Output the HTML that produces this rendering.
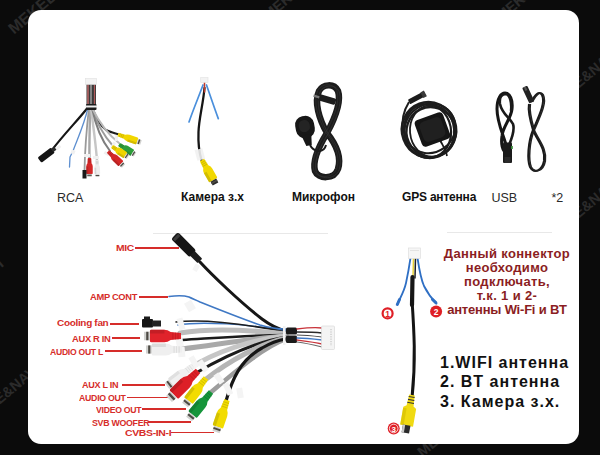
<!DOCTYPE html>
<html><head><meta charset="utf-8">
<style>
html,body{margin:0;padding:0;}
body{width:600px;height:455px;background:#0b0b0b;position:relative;overflow:hidden;font-family:"Liberation Sans",sans-serif;}
#card{position:absolute;left:28px;top:9.5px;width:551px;height:434.5px;background:#fff;border-radius:13px;}
.t{position:absolute;white-space:nowrap;line-height:1;}
.lab{font-size:12.5px;color:#2a2a2a;}
.bl{font-size:12px;font-weight:bold;color:#111;}
.red{position:absolute;white-space:nowrap;line-height:1;font-size:9.4px;font-weight:bold;color:#d62d2a;letter-spacing:-0.3px;}
.ln{position:absolute;height:1.7px;background:#d62d2a;}
.sep{position:absolute;height:1px;background:#e8e8e8;}
.wm{position:absolute;color:#2b2b2b;font-size:14.5px;font-weight:bold;transform:rotate(-40deg);transform-origin:0 100%;white-space:nowrap;line-height:1;}
svg{position:absolute;left:0;top:0;}
</style></head><body>
<div class="wm" style="left:15.5px;top:21px;font-size:16px;">MEKEDE</div>
<div class="wm" style="left:270px;top:8px;">MEKEDE</div>
<div class="wm" style="left:503px;top:9px;">MEKEDE</div>
<div class="wm" style="left:572px;top:83px;">DE&amp;NAVI</div>
<div class="wm" style="left:572px;top:213px;">DE&amp;NAVI</div>
<div class="wm" style="left:-43px;top:294px;">DE&amp;NAVI</div>
<div class="wm" style="left:-7px;top:399px;">DE&amp;NAVI</div>
<div class="wm" style="left:424px;top:445px;">MEKEDE</div>
<div id="card"></div>
<div class="sep" style="left:153px;top:233px;width:175px;"></div>
<div class="sep" style="left:447px;top:232px;width:105px;"></div>

<div class="t lab" style="left:57px;top:192px;">RCA</div>
<div class="t bl" style="left:181px;top:191px;">Камера з.х</div>
<div class="t bl" style="left:292px;top:191px;">Микрофон</div>
<div class="t bl" style="left:402px;top:191px;letter-spacing:-0.2px;">GPS антенна</div>
<div class="t lab" style="left:491.5px;top:192px;">USB</div>
<div class="t lab" style="left:551.5px;top:192px;">*2</div>


<div class="red" style="left:116px;top:243.0px;transform:scaleX(1.1);transform-origin:0 0;">MIC</div><div class="ln" style="left:134.7px;top:247.0px;width:44.0px;"></div>
<div class="red" style="left:90px;top:292.0px;transform:scaleX(0.993);transform-origin:0 0;">AMP CONT</div><div class="ln" style="left:138.7px;top:296.2px;width:29.3px;"></div>
<div class="red" style="left:57px;top:318.0px;transform:scaleX(1.065);transform-origin:0 0;">Cooling fan</div><div class="ln" style="left:110.0px;top:323.0px;width:28.7px;"></div>
<div class="red" style="left:72px;top:333.5px;transform:scaleX(0.995);transform-origin:0 0;">AUX R IN</div><div class="ln" style="left:111.5px;top:337.3px;width:28.5px;"></div>
<div class="red" style="left:49.5px;top:346.5px;transform:scaleX(0.919);transform-origin:0 0;">AUDIO OUT L</div><div class="ln" style="left:104.6px;top:350.0px;width:37.2px;"></div>
<div class="red" style="left:81.5px;top:379.5px;transform:scaleX(0.967);transform-origin:0 0;">AUX L IN</div><div class="ln" style="left:122.0px;top:384.0px;width:43.0px;"></div>
<div class="red" style="left:79px;top:393.0px;transform:scaleX(0.935);transform-origin:0 0;">AUDIO OUT</div><div class="ln" style="left:127.4px;top:396.5px;width:42.4px;"></div>
<div class="red" style="left:95.5px;top:404.5px;transform:scaleX(0.927);transform-origin:0 0;">VIDEO OUT</div><div class="ln" style="left:141.7px;top:408.3px;width:44.0px;"></div>
<div class="red" style="left:92px;top:418.0px;transform:scaleX(0.939);transform-origin:0 0;">SVB WOOFER</div><div class="ln" style="left:148.0px;top:421.3px;width:43.2px;"></div>
<div class="red" style="left:124.5px;top:428.0px;transform:scaleX(1.112);transform-origin:0 0;">CVBS-IN-I</div><div class="ln" style="left:170.6px;top:431.7px;width:43.4px;"></div>

<div class="t" style="left:436px;top:247px;width:142px;text-align:center;font-size:13px;font-weight:bold;color:#8b1d22;line-height:13.9px;letter-spacing:0.35px;white-space:normal;">Данный коннектор<br>необходимо<br>подключать,<br>т.к. 1 и 2-<br><span style="letter-spacing:-0.2px">антенны Wi-Fi и BT</span></div>
<div class="t" style="left:440px;top:353px;font-size:16px;font-weight:bold;color:#111;line-height:19.4px;letter-spacing:1.0px;">1.WIFI антенна<br>2. BT антенна<br>3. Камера з.х.</div>
<svg width="600" height="455" viewBox="0 0 600 455"><path d="M89,106 C80,118 64,134 52,150" fill="none" stroke="#161616" stroke-width="2.2" stroke-linecap="round" stroke-linejoin="round"/>
<path d="M88,108 C84,125 77,140 73,151 L70,157 L69.5,167" fill="none" stroke="#5d8fd0" stroke-width="1.3" stroke-linecap="round" stroke-linejoin="round"/>
<path d="M89,108 C87,125 85,145 84.5,171" fill="none" stroke="#9a9a9a" stroke-width="1.8" stroke-linecap="round" stroke-linejoin="round"/>
<path d="M90,108 C90,125 89,145 89.5,160" fill="none" stroke="#a8a8a8" stroke-width="2.4" stroke-linecap="round" stroke-linejoin="round"/>
<path d="M91,108 C93,125 96,145 97,161" fill="none" stroke="#c6c6c6" stroke-width="2.4" stroke-linecap="round" stroke-linejoin="round"/>
<path d="M92,107 C96,118 100,126 106,130 C110,132 114,133 120,135" fill="none" stroke="#1d1d1d" stroke-width="2.0" stroke-linecap="round" stroke-linejoin="round"/>
<path d="M92,108 C97,125 106,138 113,146" fill="none" stroke="#9c9c9c" stroke-width="2.0" stroke-linecap="round" stroke-linejoin="round"/>
<path d="M92,108 C96,128 103,142 110,151" fill="none" stroke="#7e7e7e" stroke-width="2.0" stroke-linecap="round" stroke-linejoin="round"/>
<path d="M92,108 C100,124 110,136 119,143" fill="none" stroke="#b8b8b8" stroke-width="2.0" stroke-linecap="round" stroke-linejoin="round"/>
<rect x="86.5" y="84" width="9.5" height="21" fill="#3a3a3a"/>
<path d="M88,85 L88,104" fill="none" stroke="#c46a6a" stroke-width="1.4" stroke-linecap="round" stroke-linejoin="round"/>
<path d="M91,85 L91,104" fill="none" stroke="#d0d0d0" stroke-width="1.0" stroke-linecap="round" stroke-linejoin="round"/>
<path d="M94.5,85 L94.5,104" fill="none" stroke="#b05858" stroke-width="1.2" stroke-linecap="round" stroke-linejoin="round"/>
<rect x="86" y="104" width="10.5" height="6" rx="1" fill="#1c1c1c"/><rect x="85.5" y="105.5" width="11.5" height="2" fill="#eeeeee"/>
<rect x="85.5" y="78.5" width="11" height="6" fill="#f3f3f3" stroke="#e0e0e0" stroke-width="0.6"/>
<g transform="translate(53,150) rotate(143)"><rect x="0" y="-3.2" width="17" height="6.4" rx="1.5" fill="#141414"/><rect x="-3" y="-1.8" width="4" height="3.6" fill="#2b2b2b"/></g>
<rect x="56" y="146" width="5" height="3" fill="#f0f0f0" transform="rotate(-40 58.5 147.5)"/>
<rect x="71" y="150" width="4" height="4" fill="#f0f0f0" transform="rotate(20 73.0 152.0)"/>
<rect x="84" y="154" width="6" height="3" fill="#f0f0f0" transform="rotate(0 87.0 155.5)"/>
<rect x="93" y="156" width="6" height="3" fill="#f0f0f0" transform="rotate(0 96.0 157.5)"/>
<rect x="104" y="152" width="5" height="3" fill="#f0f0f0" transform="rotate(30 106.5 153.5)"/>
<rect x="115" y="135" width="3" height="6" fill="#f0f0f0" transform="rotate(10 116.5 138.0)"/>
<rect x="112" y="142" width="3" height="5" fill="#f0f0f0" transform="rotate(30 113.5 144.5)"/>
<g transform="translate(118.0,134.5) rotate(19.2)"><path d="M0,-1.75 L6.82,-2.17 Q8.77,-3.50 10.96,-3.50 L19.48,-3.50 Q20.46,-3.50 20.46,-2.80 L20.46,2.80 Q20.46,3.50 19.48,3.50 L10.96,3.50 Q8.77,3.50 6.82,2.17 L0,1.75Z" fill="#f2d600"/><path d="M10.96,1.40 L20.46,1.40 L20.46,2.80 Q20.46,3.50 19.48,3.50 L10.96,3.50Z" fill="#b5a000" opacity="0.5"/><path d="M1.95,-1.93 L1.95,1.93" stroke="#b5a000" stroke-width="0.6" opacity="0.8"/><path d="M3.65,-1.93 L3.65,1.93" stroke="#b5a000" stroke-width="0.6" opacity="0.8"/><path d="M5.36,-1.93 L5.36,1.93" stroke="#b5a000" stroke-width="0.6" opacity="0.8"/><rect x="20.46" y="-2.38" width="3.90" height="4.76" fill="#d2d2d0"/><rect x="21.43" y="-2.38" width="1.46" height="4.76" fill="#4d4a44"/></g>
<g transform="translate(119.0,144.5) rotate(32.0)"><path d="M0,-1.75 L5.28,-2.17 Q6.79,-3.50 8.49,-3.50 L15.09,-3.50 Q15.85,-3.50 15.85,-2.80 L15.85,2.80 Q15.85,3.50 15.09,3.50 L8.49,3.50 Q6.79,3.50 5.28,2.17 L0,1.75Z" fill="#2e9e3a"/><path d="M8.49,1.40 L15.85,1.40 L15.85,2.80 Q15.85,3.50 15.09,3.50 L8.49,3.50Z" fill="#22762b" opacity="0.5"/><path d="M1.51,-1.93 L1.51,1.93" stroke="#22762b" stroke-width="0.6" opacity="0.8"/><path d="M2.83,-1.93 L2.83,1.93" stroke="#22762b" stroke-width="0.6" opacity="0.8"/><path d="M4.15,-1.93 L4.15,1.93" stroke="#22762b" stroke-width="0.6" opacity="0.8"/><rect x="15.85" y="-2.38" width="3.02" height="4.76" fill="#d2d2d0"/><rect x="16.60" y="-2.38" width="1.13" height="4.76" fill="#4d4a44"/></g>
<g transform="translate(112.0,146.5) rotate(33.3)"><path d="M0,-1.75 L5.36,-2.17 Q6.89,-3.50 8.61,-3.50 L15.31,-3.50 Q16.08,-3.50 16.08,-2.80 L16.08,2.80 Q16.08,3.50 15.31,3.50 L8.61,3.50 Q6.89,3.50 5.36,2.17 L0,1.75Z" fill="#efd400"/><path d="M8.61,1.40 L16.08,1.40 L16.08,2.80 Q16.08,3.50 15.31,3.50 L8.61,3.50Z" fill="#b39f00" opacity="0.5"/><path d="M1.53,-1.93 L1.53,1.93" stroke="#b39f00" stroke-width="0.6" opacity="0.8"/><path d="M2.87,-1.93 L2.87,1.93" stroke="#b39f00" stroke-width="0.6" opacity="0.8"/><path d="M4.21,-1.93 L4.21,1.93" stroke="#b39f00" stroke-width="0.6" opacity="0.8"/><rect x="16.08" y="-2.38" width="3.06" height="4.76" fill="#d2d2d0"/><rect x="16.84" y="-2.38" width="1.15" height="4.76" fill="#4d4a44"/></g>
<g transform="translate(108.0,151.5) rotate(43.1)"><path d="M0,-1.75 L5.94,-2.17 Q7.64,-3.50 9.55,-3.50 L16.98,-3.50 Q17.83,-3.50 17.83,-2.80 L17.83,2.80 Q17.83,3.50 16.98,3.50 L9.55,3.50 Q7.64,3.50 5.94,2.17 L0,1.75Z" fill="#d42828"/><path d="M9.55,1.40 L17.83,1.40 L17.83,2.80 Q17.83,3.50 16.98,3.50 L9.55,3.50Z" fill="#9f1e1e" opacity="0.5"/><path d="M1.70,-1.93 L1.70,1.93" stroke="#9f1e1e" stroke-width="0.6" opacity="0.8"/><path d="M3.18,-1.93 L3.18,1.93" stroke="#9f1e1e" stroke-width="0.6" opacity="0.8"/><path d="M4.67,-1.93 L4.67,1.93" stroke="#9f1e1e" stroke-width="0.6" opacity="0.8"/><rect x="17.83" y="-2.38" width="3.40" height="4.76" fill="#d2d2d0"/><rect x="18.68" y="-2.38" width="1.27" height="4.76" fill="#4d4a44"/></g>
<g transform="translate(89.5,158.0) rotate(90.0)"><path d="M0,-1.62 L5.32,-2.02 Q6.84,-3.25 8.55,-3.25 L15.20,-3.25 Q15.96,-3.25 15.96,-2.60 L15.96,2.60 Q15.96,3.25 15.20,3.25 L8.55,3.25 Q6.84,3.25 5.32,2.02 L0,1.62Z" fill="#d42828"/><path d="M8.55,1.30 L15.96,1.30 L15.96,2.60 Q15.96,3.25 15.20,3.25 L8.55,3.25Z" fill="#9f1e1e" opacity="0.5"/><path d="M1.52,-1.79 L1.52,1.79" stroke="#9f1e1e" stroke-width="0.6" opacity="0.8"/><path d="M2.85,-1.79 L2.85,1.79" stroke="#9f1e1e" stroke-width="0.6" opacity="0.8"/><path d="M4.18,-1.79 L4.18,1.79" stroke="#9f1e1e" stroke-width="0.6" opacity="0.8"/><rect x="15.96" y="-2.21" width="3.04" height="4.42" fill="#d2d2d0"/><rect x="16.72" y="-2.21" width="1.14" height="4.42" fill="#4d4a44"/></g>
<g transform="translate(97.0,160.0) rotate(88.3)"><path d="M0,-1.38 L4.76,-1.71 Q6.12,-2.75 7.65,-2.75 L13.61,-2.75 Q14.29,-2.75 14.29,-2.20 L14.29,2.20 Q14.29,2.75 13.61,2.75 L7.65,2.75 Q6.12,2.75 4.76,1.71 L0,1.38Z" fill="#eeeeee"/><path d="M7.65,1.10 L14.29,1.10 L14.29,2.20 Q14.29,2.75 13.61,2.75 L7.65,2.75Z" fill="#bbbbbb" opacity="0.5"/><path d="M1.36,-1.51 L1.36,1.51" stroke="#bbbbbb" stroke-width="0.6" opacity="0.8"/><path d="M2.55,-1.51 L2.55,1.51" stroke="#bbbbbb" stroke-width="0.6" opacity="0.8"/><path d="M3.74,-1.51 L3.74,1.51" stroke="#bbbbbb" stroke-width="0.6" opacity="0.8"/><rect x="14.29" y="-1.87" width="2.72" height="3.74" fill="#d2d2d0"/><rect x="14.97" y="-1.87" width="1.02" height="3.74" fill="#4d4a44"/></g>
<rect x="82.5" y="170" width="4" height="8.5" fill="#1a1a1a"/>
<path d="M203,85 C199,96 193,110 189,122" fill="none" stroke="#4a8fdc" stroke-width="1.7" stroke-linecap="round" stroke-linejoin="round"/>
<path d="M206.5,85 C210,95 214,107 218.3,118.6" fill="none" stroke="#4a8fdc" stroke-width="1.7" stroke-linecap="round" stroke-linejoin="round"/>
<path d="M204.5,88 C203,105 199,118 198.5,132 C198,145 199,152 201.5,160" fill="none" stroke="#151515" stroke-width="2.3" stroke-linecap="round" stroke-linejoin="round"/>
<path d="M204.5,82 L204.5,92" fill="none" stroke="#c0392b" stroke-width="1.5" stroke-linecap="round" stroke-linejoin="round"/>
<rect x="200.7" y="77.5" width="7.3" height="5" fill="#f3f3f3" stroke="#e2e2e2" stroke-width="0.6"/>
<rect x="196" y="149" width="8" height="11" fill="#f1f1f1" opacity="0.9" transform="rotate(-15 200 155)"/>
<g transform="translate(202.0,160.0) rotate(60.6)"><path d="M0,-2.38 L7.71,-2.94 Q9.91,-4.75 12.39,-4.75 L22.03,-4.75 Q23.13,-4.75 23.13,-3.80 L23.13,3.80 Q23.13,4.75 22.03,4.75 L12.39,4.75 Q9.91,4.75 7.71,2.94 L0,2.38Z" fill="#f1d800"/><path d="M12.39,1.90 L23.13,1.90 L23.13,3.80 Q23.13,4.75 22.03,4.75 L12.39,4.75Z" fill="#b4a200" opacity="0.5"/><path d="M2.20,-2.61 L2.20,2.61" stroke="#b4a200" stroke-width="0.6" opacity="0.8"/><path d="M4.13,-2.61 L4.13,2.61" stroke="#b4a200" stroke-width="0.6" opacity="0.8"/><path d="M6.06,-2.61 L6.06,2.61" stroke="#b4a200" stroke-width="0.6" opacity="0.8"/><rect x="23.13" y="-3.23" width="4.41" height="6.46" fill="#2a2a2a"/><rect x="24.23" y="-3.23" width="1.65" height="6.46" fill="#4d4a44"/></g>
<path d="M327,133 C319,119 314,102 319,91 C323,84 334,83 338,91 C342,103 334,120 327,133 C319,146 312,160 315,171 C318,179 334,180 338,169 C342,156 335,143 327,133" fill="none" stroke="#1c1c1c" stroke-width="6.5" stroke-linecap="round"/>
<path d="M327,133 C319,119 314,102 319,91 C323,84 334,83 338,91 C342,103 334,120 327,133 C319,146 312,160 315,171 C318,179 334,180 338,169 C342,156 335,143 327,133" transform="translate(1.2,0.6)" fill="none" stroke="#3a3a3a" stroke-width="0.6"/>
<path d="M327,133 C319,119 314,102 319,91 C323,84 334,83 338,91 C342,103 334,120 327,133 C319,146 312,160 315,171 C318,179 334,180 338,169 C342,156 335,143 327,133" transform="translate(-1.2,-0.6)" fill="none" stroke="#353535" stroke-width="0.6"/>
<path d="M310,145 C312,149 315,151 319,151 C323,151 325,149 326,145" fill="none" stroke="#1b1b1b" stroke-width="2"/>
<g transform="translate(305,127) rotate(-10)"><rect x="-9.5" y="-11" width="19" height="22" rx="8.5" fill="#171717"/><path d="M-5,8 L5,8 L3.5,19 L-2,19Z" fill="#171717"/><rect x="-6" y="-7" width="11" height="12" rx="5" fill="#242424"/></g>
<g transform="translate(327,99.5) rotate(16)"><rect x="-9" y="-3.2" width="18" height="6.4" rx="1.5" fill="#1d1d1d"/><rect x="-14" y="-1.2" width="6" height="2.4" fill="#7a7a7a"/></g>
<g fill="none" stroke="#1c1c1c">
<ellipse cx="429" cy="130" rx="27" ry="28" transform="rotate(-20 429 130)" stroke-width="2.6"/>
<ellipse cx="431" cy="132" rx="24.5" ry="25" transform="rotate(-25 431 132)" stroke-width="2.4"/>
<ellipse cx="427.5" cy="131" rx="23.5" ry="27" transform="rotate(-10 427.5 131)" stroke-width="2.2"/>
<ellipse cx="430" cy="128.5" rx="26" ry="24" transform="rotate(-35 430 128.5)" stroke-width="2.0"/>
<ellipse cx="432" cy="131" rx="22" ry="26" transform="rotate(-5 432 131)" stroke-width="1.8"/>
<path d="M409,102 C404,110 401,120 403,132" stroke-width="2"/>
<path d="M440,140 C443,146 446,150 447,156" stroke-width="1.8"/>
</g>
<g transform="translate(432.5,129.5) rotate(-20)"><rect x="-15" y="-14" width="30" height="28" rx="4" fill="#151515"/><rect x="-11.5" y="-10.5" width="23" height="21" rx="5" fill="#202020"/></g>
<g transform="translate(417,97.8) rotate(-28)"><rect x="-9" y="-2.6" width="18" height="5.2" rx="1" fill="#1c1c1c"/><rect x="5.5" y="-3.2" width="4" height="6.4" fill="#3a3a3a"/></g>
<path d="M506,145 C504,136 497,123 497,109 C497,98 501,93 505,93 C510,93 513,100 512,109 C511,119 503,126 502,136 C501,143 502,148 504,151" fill="none" stroke="#151515" stroke-width="3.0"/>
<path d="M509,145 C512,138 515,130 513,124 C510,118 502,114 500,104 C499,97 502,94 506,94 C510,95 512,103 511,111" fill="none" stroke="#1a1a1a" stroke-width="2.6"/>
<rect x="503" y="142.5" width="9" height="20.5" rx="1" fill="#1a1a1a"/><rect x="504.5" y="157" width="6" height="6" fill="#2a2a2a"/>
<rect x="511" y="146" width="1.8" height="3" fill="#3a8a3a"/>
<path d="M531,102 C535,95 539,90 542,95 C546,103 538,118 533,130 C528,142 527,160 530,167 C534,174 542,171 544,161 C546,149 537,140 533,130 C530,120 528,110 529,104" transform="translate(0,0)" fill="none" stroke="#1a1a1a" stroke-width="2.1"/>
<path d="M531,102 C535,95 539,90 542,95 C546,103 538,118 533,130 C528,142 527,160 530,167 C534,174 542,171 544,161 C546,149 537,140 533,130 C530,120 528,110 529,104" transform="translate(1.4,0)" fill="none" stroke="#222" stroke-width="1.5"/>
<g transform="translate(528.5,95) rotate(65)"><rect x="-9" y="-2.8" width="17" height="5.6" rx="1" fill="#222"/><rect x="-9" y="-1" width="4" height="2" fill="#555"/></g>
<path d="M200,262 C212,275 240,302 262,319 C270,325 278,329 286,331" fill="none" stroke="#161616" stroke-width="3.0" stroke-linecap="round" stroke-linejoin="round"/>
<path d="M169,296.5 C176,295.5 183,295 189,297 C193,299 196,300 200,302 C215,308 240,318 260,325 C270,328 278,329 286,329" fill="none" stroke="#3f78c4" stroke-width="1.6" stroke-linecap="round" stroke-linejoin="round"/>
<path d="M178,325 C200,321 250,324 286,331" fill="none" stroke="#3f78c4" stroke-width="1.5" stroke-linecap="round" stroke-linejoin="round"/>
<path d="M176,322 C210,318 255,326 286,332" fill="none" stroke="#1d1d1d" stroke-width="1.6" stroke-linecap="round" stroke-linejoin="round"/>
<path d="M180,333 C210,328 250,330 286,334" fill="none" stroke="#bdbdbd" stroke-width="5" stroke-linecap="round" stroke-linejoin="round"/>
<path d="M182,340 C215,338 250,335 286,335" fill="none" stroke="#1b1b1b" stroke-width="2.6" stroke-linecap="round" stroke-linejoin="round"/>
<path d="M182,349 C215,345 255,338 286,336" fill="none" stroke="#a9a9a9" stroke-width="5" stroke-linecap="round" stroke-linejoin="round"/>
<path d="M190,368 C215,352 250,340 286,336" fill="none" stroke="#c6c6c6" stroke-width="5" stroke-linecap="round" stroke-linejoin="round"/>
<path d="M196,373 C225,356 255,342 286,337" fill="none" stroke="#1b1b1b" stroke-width="3" stroke-linecap="round" stroke-linejoin="round"/>
<path d="M205,380 C230,360 260,344 286,338" fill="none" stroke="#b5b5b5" stroke-width="5" stroke-linecap="round" stroke-linejoin="round"/>
<path d="M210,393 C235,372 262,348 286,339" fill="none" stroke="#9d9d9d" stroke-width="4.5" stroke-linecap="round" stroke-linejoin="round"/>
<path d="M226,401 C232,380 240,360 262,348 C272,342 280,340 286,339" fill="none" stroke="#161616" stroke-width="3.2" stroke-linecap="round" stroke-linejoin="round"/>
<rect x="286" y="327.5" width="11" height="7" rx="1.5" fill="#1a1a1a"/><rect x="286" y="335.5" width="11" height="7.5" rx="1.5" fill="#1a1a1a"/>
<path d="M297,329 C305,328 314,327 322,328" fill="none" stroke="#c8333a" stroke-width="1.3" stroke-linecap="round" stroke-linejoin="round"/>
<path d="M297,332 C305,332 314,332 322,333" fill="none" stroke="#2a2a2a" stroke-width="1.3" stroke-linecap="round" stroke-linejoin="round"/>
<path d="M297,335 C305,335 314,336 322,337" fill="none" stroke="#4a4a4a" stroke-width="1.2" stroke-linecap="round" stroke-linejoin="round"/>
<path d="M297,338 C305,338 314,339 322,340" fill="none" stroke="#3f78c4" stroke-width="1.3" stroke-linecap="round" stroke-linejoin="round"/>
<path d="M297,340 C305,341 314,342 322,344" fill="none" stroke="#c8333a" stroke-width="1.3" stroke-linecap="round" stroke-linejoin="round"/>
<path d="M297,342 C305,343 314,345 322,347" fill="none" stroke="#6a6a6a" stroke-width="1.2" stroke-linecap="round" stroke-linejoin="round"/>
<rect x="321.5" y="326" width="13" height="23.5" rx="1" fill="#f4f4f4" stroke="#dadada" stroke-width="0.7"/>
<path d="M331,329 L331,346" stroke="#b0b0b0" stroke-width="0.8" stroke-dasharray="1.2,1.2"/>
<rect x="283" y="326" width="2.5" height="19" fill="#f2f2f2"/>
<g transform="translate(174.5,235.5) rotate(45)"><rect x="0" y="-4.8" width="26" height="9.6" rx="2.5" fill="#151515"/><rect x="25" y="-3.2" width="11" height="6.4" rx="1" fill="#1e1e1e"/><rect x="1.5" y="-3.8" width="3" height="7.6" fill="#3a3a3a"/></g>
<rect x="194" y="264" width="5" height="7" fill="#f5f5f5" transform="rotate(30 196 267)"/>
<rect x="142" y="319" width="11" height="8.5" rx="1" fill="#151515"/><rect x="152" y="320.5" width="9" height="6" fill="#222"/><rect x="144" y="316.5" width="6" height="3" fill="#1b1b1b"/>
<rect x="186" y="301" width="8" height="10" fill="#f4f4f4" transform="rotate(-30 190.0 306.0)"/>
<rect x="178" y="318" width="6" height="12" fill="#f4f4f4" transform="rotate(-15 181.0 324.0)"/>
<rect x="176" y="336" width="7" height="11" fill="#f4f4f4" transform="rotate(-10 179.5 341.5)"/>
<rect x="178" y="347" width="7" height="10" fill="#f4f4f4" transform="rotate(-5 181.5 352.0)"/>
<rect x="191" y="356" width="6" height="12" fill="#f4f4f4" transform="rotate(-30 194.0 362.0)"/>
<rect x="200" y="360" width="6" height="12" fill="#f4f4f4" transform="rotate(-35 203.0 366.0)"/>
<rect x="216" y="373" width="6" height="11" fill="#f4f4f4" transform="rotate(-35 219.0 378.5)"/>
<rect x="225" y="383" width="6" height="12" fill="#f4f4f4" transform="rotate(-25 228.0 389.0)"/>
<rect x="237" y="388" width="6" height="10" fill="#f4f4f4" transform="rotate(-10 240.0 393.0)"/>
<g transform="translate(181.0,336.0) rotate(180.0)"><path d="M0,-3.12 L10.36,-3.88 Q13.32,-6.25 16.65,-6.25 L29.60,-6.25 Q31.08,-6.25 31.08,-5.00 L31.08,5.00 Q31.08,6.25 29.60,6.25 L16.65,6.25 Q13.32,6.25 10.36,3.88 L0,3.12Z" fill="#e0232b"/><path d="M16.65,2.50 L31.08,2.50 L31.08,5.00 Q31.08,6.25 29.60,6.25 L16.65,6.25Z" fill="#a81a20" opacity="0.5"/><path d="M2.96,-3.44 L2.96,3.44" stroke="#a81a20" stroke-width="0.6" opacity="0.8"/><path d="M5.55,-3.44 L5.55,3.44" stroke="#a81a20" stroke-width="0.6" opacity="0.8"/><path d="M8.14,-3.44 L8.14,3.44" stroke="#a81a20" stroke-width="0.6" opacity="0.8"/><rect x="31.08" y="-4.25" width="5.92" height="8.50" fill="#d2d2d0"/><rect x="32.56" y="-4.25" width="2.22" height="8.50" fill="#4d4a44"/></g>
<g transform="translate(182.0,349.5) rotate(180.0)"><path d="M0,-3.00 L10.08,-3.72 Q12.96,-6.00 16.20,-6.00 L28.80,-6.00 Q30.24,-6.00 30.24,-4.80 L30.24,4.80 Q30.24,6.00 28.80,6.00 L16.20,6.00 Q12.96,6.00 10.08,3.72 L0,3.00Z" fill="#efefef"/><path d="M16.20,2.40 L30.24,2.40 L30.24,4.80 Q30.24,6.00 28.80,6.00 L16.20,6.00Z" fill="#c8c8c8" opacity="0.5"/><path d="M2.88,-3.30 L2.88,3.30" stroke="#c8c8c8" stroke-width="0.6" opacity="0.8"/><path d="M5.40,-3.30 L5.40,3.30" stroke="#c8c8c8" stroke-width="0.6" opacity="0.8"/><path d="M7.92,-3.30 L7.92,3.30" stroke="#c8c8c8" stroke-width="0.6" opacity="0.8"/><rect x="30.24" y="-4.08" width="5.76" height="8.16" fill="#d2d2d0"/><rect x="31.68" y="-4.08" width="2.16" height="8.16" fill="#4d4a44"/></g>
<g transform="translate(193.0,366.0) rotate(142.4)"><path d="M0,-2.75 L9.18,-3.41 Q11.81,-5.50 14.76,-5.50 L26.24,-5.50 Q27.55,-5.50 27.55,-4.40 L27.55,4.40 Q27.55,5.50 26.24,5.50 L14.76,5.50 Q11.81,5.50 9.18,3.41 L0,2.75Z" fill="#f0f0f0"/><path d="M14.76,2.20 L27.55,2.20 L27.55,4.40 Q27.55,5.50 26.24,5.50 L14.76,5.50Z" fill="#cfcfcf" opacity="0.5"/><path d="M2.62,-3.03 L2.62,3.03" stroke="#cfcfcf" stroke-width="0.6" opacity="0.8"/><path d="M4.92,-3.03 L4.92,3.03" stroke="#cfcfcf" stroke-width="0.6" opacity="0.8"/><path d="M7.22,-3.03 L7.22,3.03" stroke="#cfcfcf" stroke-width="0.6" opacity="0.8"/><rect x="27.55" y="-3.74" width="5.25" height="7.48" fill="#d2d2d0"/><rect x="28.87" y="-3.74" width="1.97" height="7.48" fill="#4d4a44"/></g>
<g transform="translate(198.0,371.0) rotate(136.0)"><path d="M0,-3.12 L11.29,-3.88 Q14.51,-6.25 18.14,-6.25 L32.25,-6.25 Q33.86,-6.25 33.86,-5.00 L33.86,5.00 Q33.86,6.25 32.25,6.25 L18.14,6.25 Q14.51,6.25 11.29,3.88 L0,3.12Z" fill="#dd1f27"/><path d="M18.14,2.50 L33.86,2.50 L33.86,5.00 Q33.86,6.25 32.25,6.25 L18.14,6.25Z" fill="#a5171d" opacity="0.5"/><path d="M3.22,-3.44 L3.22,3.44" stroke="#a5171d" stroke-width="0.6" opacity="0.8"/><path d="M6.05,-3.44 L6.05,3.44" stroke="#a5171d" stroke-width="0.6" opacity="0.8"/><path d="M8.87,-3.44 L8.87,3.44" stroke="#a5171d" stroke-width="0.6" opacity="0.8"/><rect x="33.86" y="-4.25" width="6.45" height="8.50" fill="#d2d2d0"/><rect x="35.47" y="-4.25" width="2.42" height="8.50" fill="#4d4a44"/></g>
<g transform="translate(206.0,378.0) rotate(127.9)"><path d="M0,-2.75 L9.58,-3.41 Q12.31,-5.50 15.39,-5.50 L27.36,-5.50 Q28.73,-5.50 28.73,-4.40 L28.73,4.40 Q28.73,5.50 27.36,5.50 L15.39,5.50 Q12.31,5.50 9.58,3.41 L0,2.75Z" fill="#f2dc00"/><path d="M15.39,2.20 L28.73,2.20 L28.73,4.40 Q28.73,5.50 27.36,5.50 L15.39,5.50Z" fill="#b5a500" opacity="0.5"/><path d="M2.74,-3.03 L2.74,3.03" stroke="#b5a500" stroke-width="0.6" opacity="0.8"/><path d="M5.13,-3.03 L5.13,3.03" stroke="#b5a500" stroke-width="0.6" opacity="0.8"/><path d="M7.53,-3.03 L7.53,3.03" stroke="#b5a500" stroke-width="0.6" opacity="0.8"/><rect x="28.73" y="-3.74" width="5.47" height="7.48" fill="#d2d2d0"/><rect x="30.10" y="-3.74" width="2.05" height="7.48" fill="#4d4a44"/></g>
<g transform="translate(211.0,392.0) rotate(129.2)"><path d="M0,-2.75 L9.75,-3.41 Q12.54,-5.50 15.67,-5.50 L27.86,-5.50 Q29.26,-5.50 29.26,-4.40 L29.26,4.40 Q29.26,5.50 27.86,5.50 L15.67,5.50 Q12.54,5.50 9.75,3.41 L0,2.75Z" fill="#16953b"/><path d="M15.67,2.20 L29.26,2.20 L29.26,4.40 Q29.26,5.50 27.86,5.50 L15.67,5.50Z" fill="#106f2c" opacity="0.5"/><path d="M2.79,-3.03 L2.79,3.03" stroke="#106f2c" stroke-width="0.6" opacity="0.8"/><path d="M5.22,-3.03 L5.22,3.03" stroke="#106f2c" stroke-width="0.6" opacity="0.8"/><path d="M7.66,-3.03 L7.66,3.03" stroke="#106f2c" stroke-width="0.6" opacity="0.8"/><rect x="29.26" y="-3.74" width="5.57" height="7.48" fill="#d2d2d0"/><rect x="30.65" y="-3.74" width="2.09" height="7.48" fill="#4d4a44"/></g>
<g transform="translate(227.0,400.0) rotate(109.0)"><path d="M0,-2.75 L9.47,-3.41 Q12.18,-5.50 15.23,-5.50 L27.07,-5.50 Q28.42,-5.50 28.42,-4.40 L28.42,4.40 Q28.42,5.50 27.07,5.50 L15.23,5.50 Q12.18,5.50 9.47,3.41 L0,2.75Z" fill="#f2dc00"/><path d="M15.23,2.20 L28.42,2.20 L28.42,4.40 Q28.42,5.50 27.07,5.50 L15.23,5.50Z" fill="#b5a500" opacity="0.5"/><path d="M2.71,-3.03 L2.71,3.03" stroke="#b5a500" stroke-width="0.6" opacity="0.8"/><path d="M5.08,-3.03 L5.08,3.03" stroke="#b5a500" stroke-width="0.6" opacity="0.8"/><path d="M7.44,-3.03 L7.44,3.03" stroke="#b5a500" stroke-width="0.6" opacity="0.8"/><rect x="28.42" y="-3.74" width="5.41" height="7.48" fill="#d2d2d0"/><rect x="29.78" y="-3.74" width="2.03" height="7.48" fill="#4d4a44"/></g>
<path d="M410.5,258 C409,268 407.5,276 406,283 C404,292 400,298 397.5,304" fill="none" stroke="#2f6fc4" stroke-width="1.8" stroke-linecap="round" stroke-linejoin="round"/>
<path d="M417.5,258 C419,268 420.5,278 424,286 C428,294 433,300 436.5,303.5" fill="none" stroke="#2f6fc4" stroke-width="1.8" stroke-linecap="round" stroke-linejoin="round"/>
<path d="M399.5,299.5 L397.3,304.5" stroke="#2f6fc4" stroke-width="3" stroke-linecap="round"/>
<path d="M432.5,299.5 L435.8,302.7" stroke="#2f6fc4" stroke-width="3" stroke-linecap="round"/>
<path d="M413.5,258 L413,278" fill="none" stroke="#e8d23a" stroke-width="1.5" stroke-linecap="round" stroke-linejoin="round"/>
<path d="M415.5,258 L415,278" fill="none" stroke="#222" stroke-width="1.5" stroke-linecap="round" stroke-linejoin="round"/>
<path d="M412.5,277 L412,305" fill="none" stroke="#161616" stroke-width="4.2" stroke-linecap="round" stroke-linejoin="round"/>
<path d="M412,300 C414,330 416,360 412,398" fill="none" stroke="#141414" stroke-width="3" stroke-linecap="round" stroke-linejoin="round"/>
<rect x="408.5" y="248" width="12" height="10.5" fill="#f6f6f6" stroke="#dedede" stroke-width="0.7"/>
<path d="M410.5,250.5 L419,250.5" stroke="#c8c8c8" stroke-width="0.8" stroke-dasharray="1,1"/>
<g transform="translate(412,395) rotate(100)"><path d="M0,-2.8 L11,-3.5 L13,-6.5 L31,-6.5 L31,6.5 L13,6.5 L11,3.5 L0,2.8Z" fill="#f0da12"/><path d="M2,-3 L2,3 M5,-3.2 L5,3.2 M8,-3.4 L8,3.4" stroke="#333" stroke-width="1.1"/><path d="M14,3 L31,3 L31,6.5 L14,6.5Z" fill="#d4bd00" opacity="0.6"/><rect x="30.5" y="-3.8" width="8" height="7.6" fill="#2a2a2a"/><rect x="30.5" y="1.5" width="8" height="2.3" fill="#c8c8c8"/></g>
<circle cx="387.6" cy="313.4" r="5" fill="#fff" stroke="#df1f26" stroke-width="2.2"/><text x="387.6" y="316.6" font-family="Liberation Sans" font-weight="bold" font-size="8.5" fill="#df1f26" text-anchor="middle">1</text>
<circle cx="436.1" cy="311.4" r="6" fill="#df1f26"/><text x="436.1" y="314.6" font-family="Liberation Sans" font-weight="bold" font-size="8.5" fill="#fff" text-anchor="middle">2</text>
<circle cx="393.7" cy="428.5" r="6" fill="#df1f26"/><circle cx="393.7" cy="428.5" r="4.3" fill="none" stroke="#fff" stroke-width="0.8"/><text x="393.7" y="431.6" font-family="Liberation Sans" font-weight="bold" font-size="8" fill="#fff" text-anchor="middle">3</text></svg>
</body></html>
